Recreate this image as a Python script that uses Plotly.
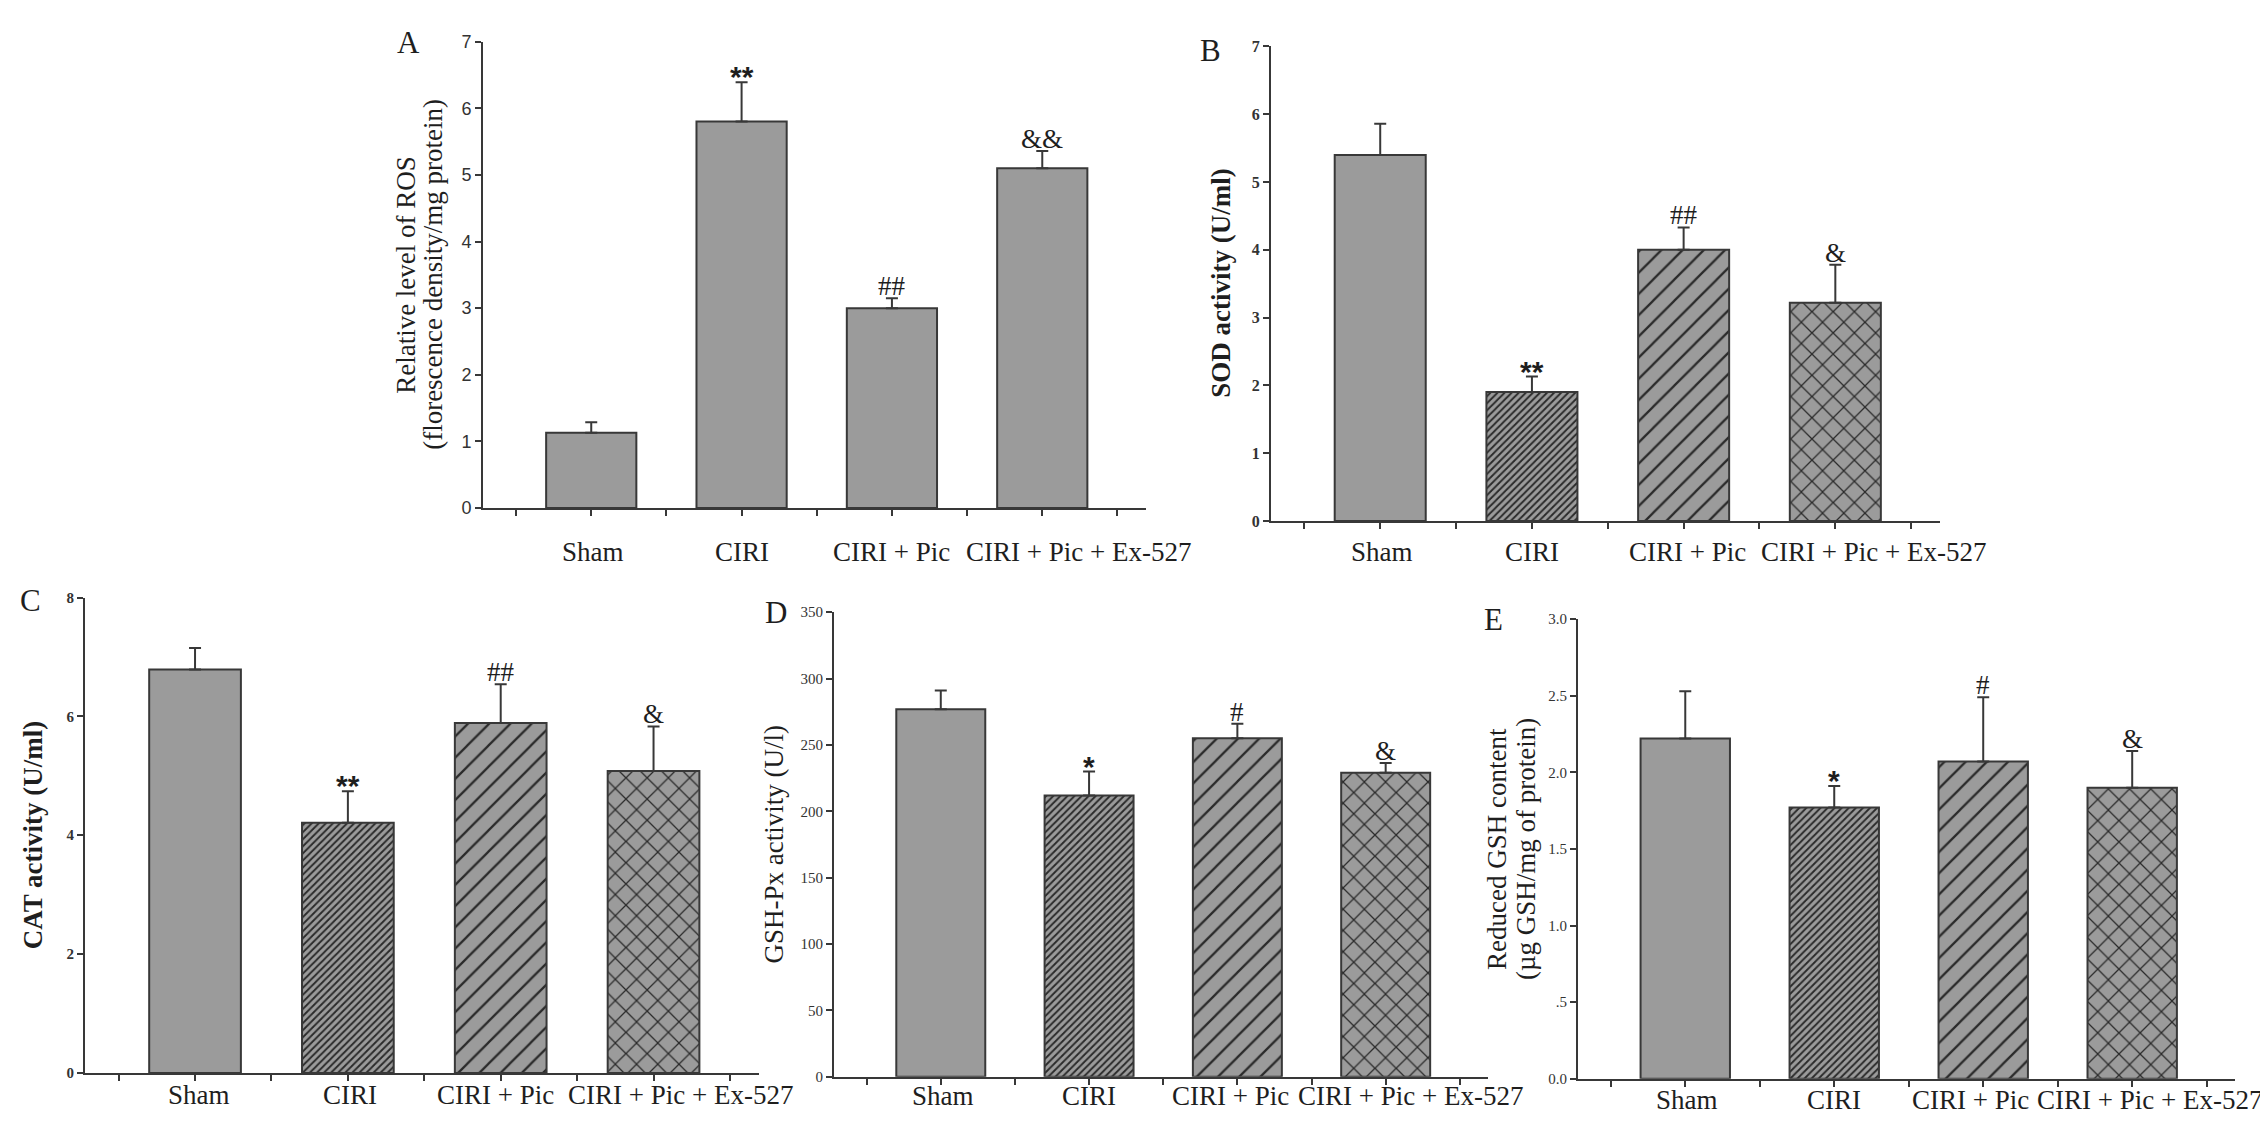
import plotly.graph_objects as go

W, H = 2268, 1124

# ---------------- data ----------------
groups = ["Sham", "CIRI", "CIRI + Pic", "CIRI + Pic + Ex-527"]

ros_mean = [1.13, 5.80, 3.00, 5.10]
ros_err = [0.16, 0.59, 0.15, 0.26]
ros_sig = ["", "**", "##", "&&"]

sod_mean = [5.40, 1.90, 4.00, 3.22]
sod_err = [0.46, 0.23, 0.33, 0.56]
sod_sig = ["", "**", "##", "&"]

cat_mean = [6.79, 4.21, 5.89, 5.08]
cat_err = [0.36, 0.53, 0.65, 0.75]
cat_sig = ["", "**", "##", "&"]

gpx_mean = [277, 212, 255, 229]
gpx_err = [14, 18, 11, 7.5]
gpx_sig = ["", "*", "#", "&"]

gsh_mean = [2.22, 1.77, 2.07, 1.90]
gsh_err = [0.31, 0.14, 0.42, 0.24]
gsh_sig = ["", "*", "#", "&"]

ros_ticks = [0, 1, 2, 3, 4, 5, 6, 7]
sod_ticks = [0, 1, 2, 3, 4, 5, 6, 7]
cat_ticks = [0, 2, 4, 6, 8]
gpx_ticks = [0, 50, 100, 150, 200, 250, 300, 350]
gsh_ticks = [0, 0.5, 1.0, 1.5, 2.0, 2.5, 3.0]
gsh_ticktext = ["0.0", ".5", "1.0", "1.5", "2.0", "2.5", "3.0"]

# ---------------- style ----------------
SERIF = "Liberation Serif, Times New Roman, serif"
SANS = "Liberation Sans, Arial, sans-serif"
FILL = "#9b9b9b"
EDGE = "#383838"
TXT = "#1e1e1e"


def px_x(p):
    return p / W


def px_y(p):
    return 1 - p / H


panels = [
    dict(mean=ros_mean, err=ros_err, sig=ros_sig, ticks=ros_ticks, ticktext=[str(t) for t in ros_ticks],
         ymax=7, x0=475, x1=1138, yt=24, yb=499, hatch=False,
         tf=dict(family=SANS, size=18, color="#333"), lab_dy=44, lab_dx=[2, 0, 0, 36],
         letter=("A", 400, 25),
         titles=[("Relative level of ROS", 398), ("(florescence density/mg protein)", 425)], tbold=False),
    dict(mean=sod_mean, err=sod_err, sig=sod_sig, ticks=sod_ticks, ticktext=[str(t) for t in sod_ticks],
         ymax=7, x0=1263, x1=1932, yt=29, yb=512, hatch=True,
         tf=dict(family=SERIF, size=16, color="#333", weight="bold"), lab_dy=31, lab_dx=[2, 0, 4, 38],
         letter=("B", 1202, 33),
         titles=[("SOD activity (U/ml)", 1213)], tbold=True),
    dict(mean=cat_mean, err=cat_err, sig=cat_sig, ticks=cat_ticks, ticktext=[str(t) for t in cat_ticks],
         ymax=8, x0=77, x1=751, yt=590, yb=1074, hatch=True,
         tf=dict(family=SERIF, size=15, color="#333", weight="bold"), lab_dy=22, lab_dx=[4, 2, -5, 27],
         letter=("C", 22, 593),
         titles=[("CAT activity (U/ml)", 25)], tbold=True),
    dict(mean=gpx_mean, err=gpx_err, sig=gpx_sig, ticks=gpx_ticks, ticktext=[str(t) for t in gpx_ticks],
         ymax=350, x0=826, x1=1480, yt=605, yb=1078, hatch=True,
         tf=dict(family=SERIF, size=15, color="#333"), lab_dy=19, lab_dx=[2, 0, -7, 25],
         letter=("D", 768, 605),
         titles=[("GSH-Px activity (U/l)", 766)], tbold=False),
    dict(mean=gsh_mean, err=gsh_err, sig=gsh_sig, ticks=gsh_ticks, ticktext=gsh_ticktext,
         ymax=3.0, x0=1570, x1=2227, yt=612, yb=1080, hatch=True,
         tf=dict(family=SERIF, size=15, color="#333"), lab_dy=21, lab_dx=[2, 0, -13, 17],
         letter=("E", 1485, 612),
         titles=[("Reduced GSH content", 1489), ("(µg GSH/mg of protein)", 1518)], tbold=False),
]

xpos = [0, 1, 2, 3]
xtickvals = [-0.5, 0, 0.5, 1, 1.5, 2, 2.5, 3, 3.5]

fig = go.Figure()
annotations = []
layout = {}

for i, p in enumerate(panels):
    n = "" if i == 0 else str(i + 1)
    xa, ya = "x" + n, "y" + n
    if p["hatch"]:
        pattern = dict(shape=["", "/", "/", "x"], size=[8, 5, 15, 15],
                       solidity=[0.3, 0.38, 0.15, 0.16],
                       fgcolor="#2a2a2a", bgcolor=FILL, fillmode="replace")
    else:
        pattern = dict(shape="")
    fig.add_trace(go.Bar(
        x=xpos, y=p["mean"], width=0.6, xaxis=xa, yaxis=ya,
        marker=dict(color=FILL, line=dict(color=EDGE, width=2), pattern=pattern),
        error_y=dict(type="data", array=p["err"], arrayminus=[0] * 4, symmetric=False,
                     color=EDGE, thickness=2, width=6),
        showlegend=False, hoverinfo="skip"))

    layout["xaxis" + n] = dict(
        domain=[px_x(p["x0"]), px_x(p["x1"])], anchor=ya, range=[-0.72, 3.69],
        showline=True, linecolor=EDGE, linewidth=2, ticks="outside", ticklen=6,
        tickwidth=2, tickcolor=EDGE, tickvals=xtickvals, ticktext=[""] * len(xtickvals),
        showgrid=False, zeroline=False, fixedrange=True)
    layout["yaxis" + n] = dict(
        domain=[px_y(p["yb"]), px_y(p["yt"])], anchor=xa, range=[0, p["ymax"]],
        showline=True, linecolor=EDGE, linewidth=2, ticks="outside", ticklen=6,
        tickwidth=2, tickcolor=EDGE, tickvals=p["ticks"], ticktext=p["ticktext"],
        tickfont=p["tf"], showgrid=False, zeroline=False, fixedrange=True)

    # category labels under the axis
    for j, g in enumerate(groups):
        annotations.append(dict(
            x=xpos[j], y=0, xref=xa, yref=ya, text=g, showarrow=False,
            xanchor="center", yanchor="middle", xshift=p["lab_dx"][j], yshift=-p["lab_dy"],
            font=dict(family=SERIF, size=27, color=TXT)))

    # significance marks, placed at the top of each error bar
    for j, s in enumerate(p["sig"]):
        if not s:
            continue
        star = "*" in s
        annotations.append(dict(
            x=xpos[j], y=p["mean"][j] + p["err"][j], xref=xa, yref=ya,
            text=s, showarrow=False, xanchor="center", yanchor="bottom",
            yshift=-13 if star else -5,
            font=dict(family=SANS if star else SERIF, size=30 if star else 27,
                      color=TXT, weight="bold" if star else "normal")))

    # panel letter
    L, lx, ly = p["letter"]
    annotations.append(dict(x=px_x(lx), y=px_y(ly), xref="paper", yref="paper", text=L,
                            showarrow=False, xanchor="center", yanchor="middle",
                            font=dict(family=SERIF, size=31, color=TXT)))
    # y titles
    yc = (p["yt"] + p["yb"]) / 2
    for t, tx in p["titles"]:
        annotations.append(dict(x=px_x(tx), y=px_y(yc), xref="paper", yref="paper", text=t,
                                showarrow=False, xanchor="center", yanchor="middle",
                                textangle=-90,
                                font=dict(family=SERIF, size=27, color=TXT,
                                          weight="bold" if p["tbold"] else "normal")))

fig.update_layout(
    width=W, height=H, margin=dict(l=0, r=0, t=0, b=0),
    paper_bgcolor="white", plot_bgcolor="white",
    annotations=annotations, **layout)

fig.write_html("out.html")
